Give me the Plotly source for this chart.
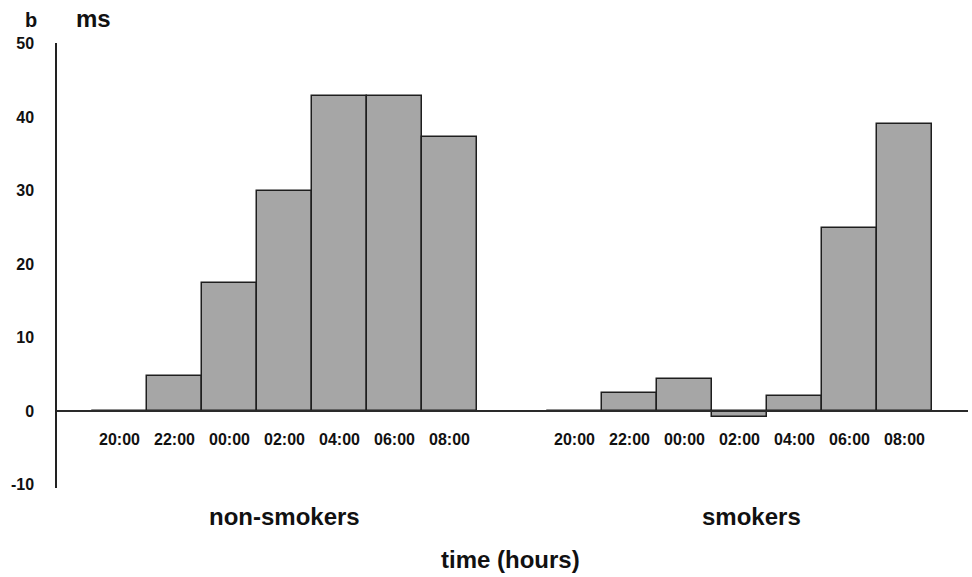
import plotly.graph_objects as go

times = ["20:00", "22:00", "00:00", "02:00", "04:00", "06:00", "08:00"]
non_smokers = [0, 4.8, 17.4, 29.9, 42.9, 42.9, 37.3]
smokers = [0, 2.5, 4.3, -0.8, 2.0, 24.9, 39.1]
groups = ["non-smokers", "smokers"]
group_offset = [0.0, 8.27]
y_ticks = [-10, 0, 10, 20, 30, 40, 50]

FONT = "Liberation Sans, Arial, sans-serif"
fig = go.Figure()

all_x, all_lbl = [], []
for g, vals, off in zip(groups, [non_smokers, smokers], group_offset):
    xs = [off + i for i in range(len(times))]
    all_x += xs
    all_lbl += times
    fig.add_trace(go.Bar(
        x=xs, y=vals, width=1.0, name=g,
        marker=dict(color="#a6a6a6", line=dict(color="#1e1e1e", width=1.5)),
        showlegend=False,
    ))

# zero line
fig.add_shape(type="line", xref="paper", x0=0, x1=1, yref="y", y0=0, y1=0,
              line=dict(color="#2a2a2a", width=2), layer="above")

# time tick labels under the zero line
for x, lbl in zip(all_x, all_lbl):
    fig.add_annotation(x=x, y=0, xref="x", yref="y", text="<b>%s</b>" % lbl,
                       showarrow=False, yshift=-29, yanchor="middle",
                       font=dict(family=FONT, size=16, color="#111"))

# group labels
for g, off, shift in zip(groups, group_offset, [0, 12]):
    fig.add_annotation(x=off + 3, y=-0.063, xref="x", yref="paper",
                       text="<b>%s</b>" % g, showarrow=False, xshift=shift,
                       yanchor="middle",
                       font=dict(family=FONT, size=24, color="#111"))

fig.add_annotation(x=0.498, y=-0.16, xref="paper", yref="paper",
                   text="<b>time (hours)</b>", showarrow=False, yanchor="middle",
                   font=dict(family=FONT, size=24, color="#111"))

fig.update_layout(
    width=972, height=577,
    margin=dict(l=57, r=4, t=43, b=89),
    paper_bgcolor="white", plot_bgcolor="white",
    font=dict(family=FONT, color="#111"),
    bargap=0,
    xaxis=dict(range=[-1.136, 15.43], showticklabels=False, showgrid=False,
               zeroline=False, showline=False, ticks=""),
    yaxis=dict(range=[-10.5, 50.1], tickvals=y_ticks,
               ticktext=["<b>%d</b>" % v for v in y_ticks],
               tickfont=dict(family=FONT, size=16, color="#111"),
               showgrid=False, zeroline=False, showline=True,
               linecolor="#222", linewidth=1.5, ticks="",
               ticklabelstandoff=18),
)

# corner labels
fig.add_annotation(x=-0.0368, y=1.052, xref="paper", yref="paper", text="<b>b</b>",
                   showarrow=False, yanchor="middle",
                   font=dict(family=FONT, size=20, color="#111"))
fig.add_annotation(x=0.0192, y=1.054, xref="paper", yref="paper", text="<b>ms</b>",
                   showarrow=False, yanchor="middle",
                   font=dict(family=FONT, size=24, color="#111"))

fig.write_html("out.html")
